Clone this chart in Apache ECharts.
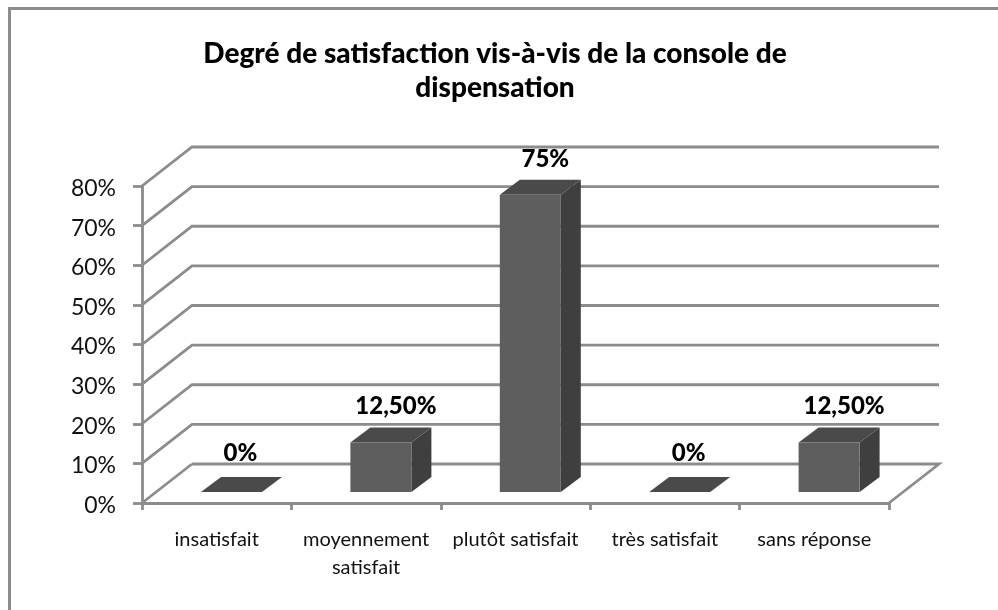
<!DOCTYPE html>
<html><head><meta charset="utf-8">
<style>html,body{margin:0;padding:0;background:#fff}#c{width:998px;height:610px}</style>
<script src="https://cdn.jsdelivr.net/npm/echarts@6/dist/echarts.min.js"></script>
</head><body><div id="c"></div>
<script>
const titleText = "Degré de satisfaction vis-à-vis de la console de\ndispensation";
const categories = ["insatisfait","moyennement\nsatisfait","plutôt satisfait","très satisfait","sans réponse"];
const values = [0,12.5,75,0,12.5];
const valueLabels = ["0%","12,50%","75%","0%","12,50%"];
const gridValues = [0,10,20,30,40,50,60,70,80];

const WALL_DX = 50, WALL_DY = 39;   // depth of the 3D floor
const BAR_W = 61, BAR_DX = 20, BAR_DY = 15;   // bar size and depth
const BAR_OFF_X = 14.8, BAR_OFF_Y = 11;       // bar offset from front edge
const GREY = '#8c8c8c';
const LINE_W = 2.8;

const chart = echarts.init(document.getElementById('c'), null, {renderer:'canvas'});
chart.setOption({
  animation:false,
  backgroundColor:'#fff',
  title:{text:titleText,left:490,top:32,textAlign:'center',
    textStyle:{fontFamily:'Lato',fontWeight:900,fontSize:28,lineHeight:34,color:'#000'}},
  grid:{left:142,right:109,top:186,bottom:107},
  xAxis:{type:'category',data:categories,
    axisLine:{show:true,lineStyle:{color:GREY,width:LINE_W}},
    axisTick:{show:true,alignWithLabel:false,length:7,lineStyle:{color:GREY,width:LINE_W}},
    axisLabel:{interval:0,margin:23,fontFamily:'Lato',fontSize:20,lineHeight:28,color:'#111'}},
  yAxis:{type:'value',min:0,max:80,interval:10,
    axisLine:{show:true,lineStyle:{color:GREY,width:LINE_W}},
    axisTick:{show:true,length:9,lineStyle:{color:GREY,width:LINE_W}},
    splitLine:{show:false},
    axisLabel:{margin:26,formatter:v=>'{a|'+v+'%}',
      rich:{a:{fontFamily:'Lato',fontSize:23,color:'#111',padding:[5,0,0,0]}}}},
  graphic:[{type:'polyline',silent:true,z:-1,
    shape:{points:[[9.5,610],[9.5,8.5],[998,8.5]]},
    style:{fill:'none',stroke:GREY,lineWidth:3}}],
  series:[
    {type:'custom',z:1,coordinateSystem:'cartesian2d',clip:false,silent:true,
     data:gridValues.map(v=>[0,v]),
     renderItem(params,api){
       const v=api.value(1);
       const l=api.coord([0,v]), g=params.coordSys;
       const x0=g.x, x1=g.x+g.width, y=l[1];
       const pts = v===0
        ? [[x0,y],[x0+WALL_DX,y-WALL_DY]]
        : [[x0,y],[x0+WALL_DX,y-WALL_DY],[x1+WALL_DX,y-WALL_DY]];
       const ch=[{type:'polyline',shape:{points:pts},style:{fill:'none',stroke:GREY,lineWidth:LINE_W}}];
       if(v===0){
         ch.push({type:'polyline',shape:{points:[[x0+WALL_DX,y-WALL_DY],[x1+WALL_DX,y-WALL_DY],[x1,y]]},style:{fill:'none',stroke:GREY,lineWidth:LINE_W}});
       }
       return {type:'group',children:ch};
     },
     encode:{x:0,y:1}},
    {type:'custom',z:3,coordinateSystem:'cartesian2d',clip:false,silent:true,
     data:values.map((v,i)=>[i,v,valueLabels[i]]),
     encode:{x:0,y:1},
     renderItem(params,api){
       const i=api.value(0), v=api.value(1);
       const c=api.coord([i,0]), t=api.coord([i,v]);
       const xl=c[0]-BAR_W/2+BAR_OFF_X, xr=xl+BAR_W;
       const yb=c[1]-BAR_OFF_Y, yt=t[1]-BAR_OFF_Y;
       const dx=BAR_DX, dy=BAR_DY;
       const ch=[
        {type:'polygon',shape:{points:[[xr,yb],[xr+dx,yb-dy],[xr+dx,yt-dy],[xr,yt]]},style:{fill:'#3f3f3f'}},
        {type:'polygon',shape:{points:[[xl,yt],[xl+dx,yt-dy],[xr+dx,yt-dy],[xr,yt]]},style:{fill:'#4a4a4a'}},
        {type:'rect',shape:{x:xl,y:yt,width:BAR_W,height:yb-yt},style:{fill:'#5e5e5e'}},
        {type:'text',style:{text:api.value(2),x:(xl+xr)/2+dx/2+(v===0?-1:5),y:yt-dy-(v===0?24:21),align:'center',verticalAlign:'middle',
          font:'900 24px Lato',fill:'#000'}}
       ];
       return {type:'group',children:ch};
     }}
  ]
});
</script></body></html>
